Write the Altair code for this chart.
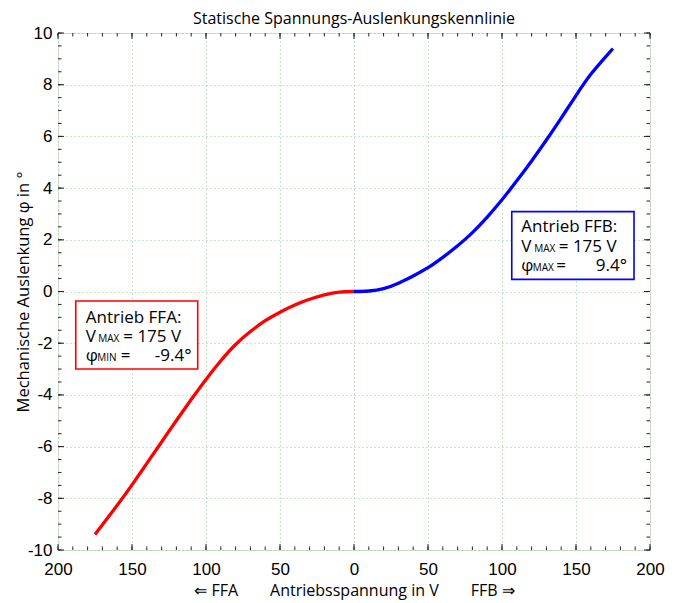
import altair as alt
import pandas as pd
import numpy as np

# ---- data ----
volt_ffb = [0, 10, 20, 30, 40, 50, 60, 70, 80, 90, 100, 110, 120, 130, 140, 150, 160, 170, 175]
phi_ffb = [0.0, 0.02, 0.11, 0.32, 0.60, 0.92, 1.32, 1.77, 2.28, 2.88, 3.55, 4.28, 5.05, 5.86, 6.71, 7.58, 8.40, 9.08, 9.40]
volt_ffa = [0, -10, -20, -30, -40, -50, -60, -70, -80, -90, -100, -110, -120, -130, -140, -150, -160, -170, -175]
phi_ffa = [0.0, -0.02, -0.13, -0.30, -0.52, -0.80, -1.13, -1.55, -2.05, -2.68, -3.40, -4.18, -4.99, -5.82, -6.65, -7.48, -8.27, -9.02, -9.40]

x_major = list(range(-200, 201, 50))
y_major = list(range(-10, 11, 2))
x_minor = list(range(-200, 201, 10))
y_minor = [v / 2 for v in range(-20, 21)]

W, H = 592, 517
XMIN, XMAX, YMIN, YMAX = -200, 200, -10, 10
PX = W / (XMAX - XMIN)
PY = H / (YMAX - YMIN)

xs = alt.Scale(domain=[XMIN, XMAX], nice=False, zero=False)
ys = alt.Scale(domain=[YMIN, YMAX], nice=False, zero=False)

GRID = "#94cc94"
FRAME = "#222222"

x_axis = alt.Axis(
    values=x_major, labelExpr="'' + abs(datum.value)",
    grid=True, gridDash=[1, 3], gridColor=GRID, gridWidth=1,
    ticks=False, domain=False, labelFlush=False, labelOverlap=False,
    labelFont="Liberation Sans", labelFontSize=17, labelColor="black", labelPadding=11,
    title="\u21d0 FFA\u2003\u2003Antriebsspannung in V\u2003\u2003FFB \u21d2",
    titleFont="Open Sans", titleFontSize=16, titleFontWeight="normal", titleColor="black",
    titlePadding=5,
)
y_axis = alt.Axis(
    values=y_major, labelExpr="'' + datum.value",
    grid=True, gridDash=[1, 3], gridColor=GRID, gridWidth=1,
    ticks=False, domain=False, labelFlush=False, labelOverlap=False,
    labelFont="Liberation Sans", labelFontSize=17, labelColor="black", labelPadding=6,
    title="Mechanische Auslenkung \u03c6 in \u00b0",
    titleFont="Open Sans", titleFontSize=16.5, titleFontWeight="normal", titleColor="black",
    titleX=-35, titleY=H / 2, titleAngle=270, titleAlign="center", titleBaseline="middle",
)


def X(field):
    return alt.X(field, type="quantitative", scale=xs, axis=x_axis)


def Y(field):
    return alt.Y(field, type="quantitative", scale=ys, axis=y_axis)


red = alt.Chart(pd.DataFrame({"x": volt_ffa, "y": phi_ffa})).mark_line(
    color="#ff0000", strokeWidth=3.3, interpolate="natural").encode(x=X("x"), y=Y("y"), order="x")
blue = alt.Chart(pd.DataFrame({"x": volt_ffb, "y": phi_ffb})).mark_line(
    color="#0000ff", strokeWidth=3.3, interpolate="natural").encode(x=X("x"), y=Y("y"), order="x")


def xticks(vals, length, top):
    base = alt.Chart(pd.DataFrame({"x": vals})).mark_rule(color=FRAME, strokeWidth=1)
    if top:
        return base.encode(x=X("x"), y=alt.value(0), y2=alt.value(length))
    return base.encode(x=X("x"), y=alt.value(H), y2=alt.value(H - length))


def yticks(vals, length, right):
    base = alt.Chart(pd.DataFrame({"y": vals})).mark_rule(color=FRAME, strokeWidth=1)
    if right:
        return base.encode(y=Y("y"), x=alt.value(W), x2=alt.value(W - length))
    return base.encode(y=Y("y"), x=alt.value(0), x2=alt.value(length))


ticks = [
    xticks(x_minor, 3.5, False), xticks(x_major, 6, False),
    xticks(x_minor, 3.5, True), xticks(x_major, 6, True),
    yticks(y_minor, 3.5, False), yticks(y_major, 6, False),
    yticks(y_minor, 3.5, True), yticks(y_major, 6, True),
]

# ---- annotation boxes (data coordinates of the box corners) ----
boxes = [
    dict(x=-188.0, x2=-105.6, y=-0.37, y2=-3.0, color="#ff0000"),
    dict(x=106.6, x2=189.2, y=3.09, y2=0.47, color="#0000ff"),
]
box_pieces = [
    # (text, dx px from box left, dy px from box top (baseline), font size)
    [("Antrieb FFA:", 10, 22, 17), ("V", 10, 41, 17), ("MAX", 22.5, 41, 10),
     ("= 175 V", 47.5, 41, 17), ("\u03c6", 10, 60, 17), ("MIN", 21.5, 60, 10),
     ("=", 45, 60, 17), ("-9.4\u00b0", 79, 60, 17)],
    [("Antrieb FFB:", 9.5, 20, 17), ("V", 9.5, 40, 17), ("MAX", 22.5, 40, 10),
     ("= 175 V", 47, 40, 17), ("\u03c6", 9.5, 59, 17), ("MAX", 21, 59, 10),
     ("=", 44.5, 59, 17), ("9.4\u00b0", 84, 59, 17)],
]

layers = [red, blue]
for b, pieces in zip(boxes, box_pieces):
    rect = alt.Chart(pd.DataFrame([{"x": b["x"], "x2": b["x2"], "y": b["y"], "y2": b["y2"]}])).mark_rect(
        fill="white", stroke=b["color"], strokeWidth=1.6).encode(
        x=X("x"), x2="x2", y=Y("y"), y2="y2")
    rows = [{"t": t, "x": b["x"] + dx / PX, "y": b["y"] - dy / PY, "fs": fs} for t, dx, dy, fs in pieces]
    txt = alt.Chart(pd.DataFrame(rows)).mark_text(
        align="left", baseline="alphabetic", font="Open Sans", color="black").encode(
        x=X("x"), y=Y("y"), text="t:N", size=alt.Size("fs:Q", scale=None))
    layers += [rect, txt]

layers += ticks

chart = alt.layer(*layers).properties(
    width=W, height=H,
    title=alt.TitleParams("Statische Spannungs-Auslenkungskennlinie", font="Open Sans",
                          fontSize=16, fontWeight="normal", color="black", offset=9, dy=12),
    autosize=alt.AutoSizeParams(type="none"),
    padding={"left": 50, "top": 25, "right": 22, "bottom": 52},
).configure_view(stroke=FRAME, strokeWidth=1.2).configure(background="white")

chart.save("out.html", embed_options={"renderer": "svg", "actions": False})
